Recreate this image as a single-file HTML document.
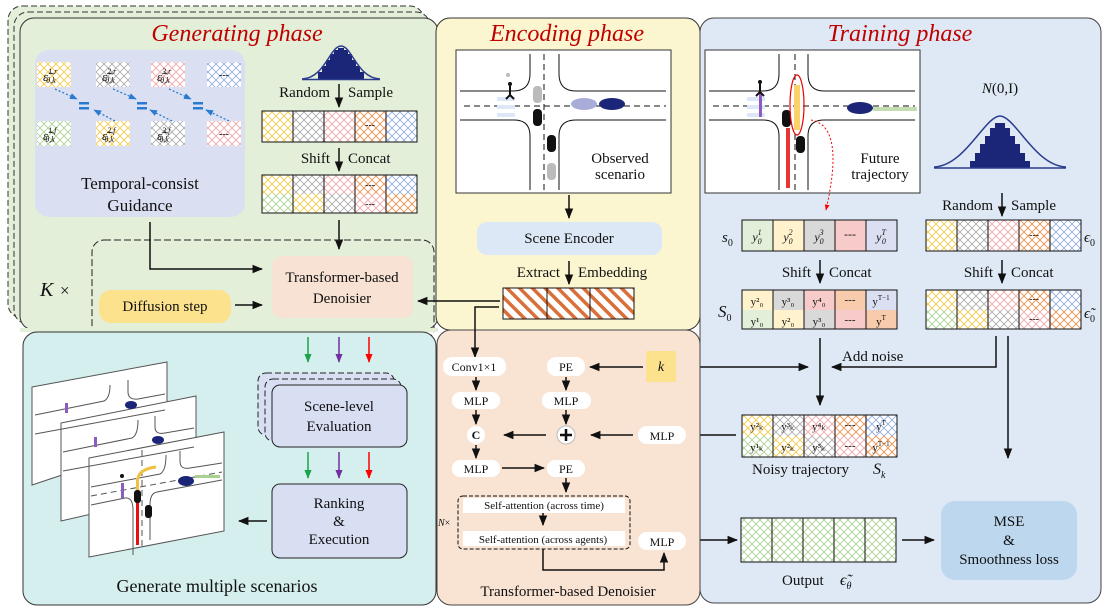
<!DOCTYPE html>
<html><head><meta charset="utf-8"><style>
html,body{margin:0;padding:0;background:#fff;width:1108px;height:608px;overflow:hidden}
svg{display:block}
text{font-family:"Liberation Serif",serif;fill:#111}
.t{font-size:15px}
.s{font-size:12px}
.ti{font-family:"Liberation Serif",serif;font-style:italic;font-size:24px;fill:#c00000}
.i{font-style:italic}
</style></head><body>
<svg width="1108" height="608" viewBox="0 0 1108 608" xmlns="http://www.w3.org/2000/svg">
<defs>
<pattern id="hy" width="8" height="8" patternUnits="userSpaceOnUse"><rect width="8" height="8" fill="#fff"/><path d="M0,0L8,8M8,0L0,8" stroke="#f5c842" stroke-width="0.8"/></pattern>
<pattern id="hg" width="8" height="8" patternUnits="userSpaceOnUse"><rect width="8" height="8" fill="#fff"/><path d="M0,0L8,8M8,0L0,8" stroke="#aaa" stroke-width="0.8"/></pattern>
<pattern id="hp" width="8" height="8" patternUnits="userSpaceOnUse"><rect width="8" height="8" fill="#fff"/><path d="M0,0L8,8M8,0L0,8" stroke="#f2a3a3" stroke-width="0.8"/></pattern>
<pattern id="ho" width="8" height="8" patternUnits="userSpaceOnUse"><rect width="8" height="8" fill="#fff"/><path d="M0,0L8,8M8,0L0,8" stroke="#ef8c44" stroke-width="0.8"/></pattern>
<pattern id="hb" width="8" height="8" patternUnits="userSpaceOnUse"><rect width="8" height="8" fill="#fff"/><path d="M0,0L8,8M8,0L0,8" stroke="#8faadf" stroke-width="0.8"/></pattern>
<pattern id="hgr" width="8" height="8" patternUnits="userSpaceOnUse"><rect width="8" height="8" fill="#fff"/><path d="M0,0L8,8M8,0L0,8" stroke="#a9d08e" stroke-width="0.8"/></pattern>
<pattern id="stripe" width="9" height="9" patternUnits="userSpaceOnUse" patternTransform="rotate(-45)"><rect width="9" height="9" fill="#fff"/><rect width="3.5" height="9" fill="#d9703a"/></pattern>
<marker id="a" viewBox="0 0 10 10" refX="9" refY="5" markerWidth="7" markerHeight="7" orient="auto-start-reverse"><path d="M0,1L10,5L0,9z" fill="#111"/></marker>
<marker id="ag" viewBox="0 0 10 10" refX="9" refY="5" markerWidth="6" markerHeight="6" orient="auto"><path d="M0,1L10,5L0,9z" fill="#1aa34a"/></marker>
<marker id="ap" viewBox="0 0 10 10" refX="9" refY="5" markerWidth="6" markerHeight="6" orient="auto"><path d="M0,1L10,5L0,9z" fill="#7030a0"/></marker>
<marker id="ar" viewBox="0 0 10 10" refX="9" refY="5" markerWidth="6" markerHeight="6" orient="auto"><path d="M0,1L10,5L0,9z" fill="#ff0000"/></marker>
<marker id="ab" viewBox="0 0 10 10" refX="9" refY="5" markerWidth="6" markerHeight="6" orient="auto"><path d="M0,1L10,5L0,9z" fill="#2a7bd0"/></marker>
<marker id="ad" viewBox="0 0 10 10" refX="9" refY="5" markerWidth="6" markerHeight="6" orient="auto"><path d="M0,1L10,5L0,9z" fill="#ff0000"/></marker>
</defs>

<!-- Generating phase stacked -->
<rect x="8" y="6" width="416" height="312" rx="14" fill="#e3efd9" stroke="#333" stroke-dasharray="6,3"/>
<rect x="14" y="12" width="416" height="312" rx="14" fill="#e3efd9" stroke="#333" stroke-dasharray="6,3"/>
<rect x="20" y="18" width="418" height="312" rx="14" fill="#e3efd9" stroke="#333"/>
<text x="237" y="41" text-anchor="middle" class="ti">Generating phase</text>

<!-- Guidance -->
<rect x="35" y="50" width="210" height="167" rx="14" fill="#dae0f2"/>
<g font-size="13">
<rect x="37" y="62" width="34" height="25" fill="url(#hy)"/><text x="43" y="81" class="i">ε̃<tspan dy="-7" font-size="8">1,r</tspan><tspan dy="9" dx="-11" font-size="8">θ,k</tspan></text>
<rect x="96" y="62" width="34" height="25" fill="url(#hg)"/><text x="102" y="81" class="i">ε̃<tspan dy="-7" font-size="8">2,r</tspan><tspan dy="9" dx="-11" font-size="8">θ,k</tspan></text>
<rect x="151" y="62" width="34" height="25" fill="url(#hp)"/><text x="157" y="81" class="i">ε̃<tspan dy="-7" font-size="8">3,r</tspan><tspan dy="9" dx="-11" font-size="8">θ,k</tspan></text>
<rect x="207" y="62" width="34" height="25" fill="url(#hb)"/><text x="224" y="78" text-anchor="middle" font-size="10">---</text>
<rect x="37" y="121" width="34" height="25" fill="url(#hgr)"/><text x="43" y="140" class="i">ε̃<tspan dy="-7" font-size="8">1,f</tspan><tspan dy="9" dx="-11" font-size="8">θ,k</tspan></text>
<rect x="96" y="121" width="34" height="25" fill="url(#hy)"/><text x="102" y="140" class="i">ε̃<tspan dy="-7" font-size="8">2,f</tspan><tspan dy="9" dx="-11" font-size="8">θ,k</tspan></text>
<rect x="151" y="121" width="34" height="25" fill="url(#hg)"/><text x="157" y="140" class="i">ε̃<tspan dy="-7" font-size="8">3,f</tspan><tspan dy="9" dx="-11" font-size="8">θ,k</tspan></text>
<rect x="207" y="121" width="34" height="25" fill="url(#hp)"/><text x="224" y="137" text-anchor="middle" font-size="10">---</text>
</g>
<g stroke="#2a7bd0" stroke-width="1.3" stroke-dasharray="2,2" fill="none">
<path d="M55,89L77,99" marker-end="url(#ab)"/><path d="M115,121L94,110" marker-end="url(#ab)"/>
<path d="M113,89L136,99" marker-end="url(#ab)"/><path d="M172,121L150,110" marker-end="url(#ab)"/>
<path d="M169,89L191,99" marker-end="url(#ab)"/><path d="M229,121L206,110" marker-end="url(#ab)"/>
</g>
<g fill="#2a7bd0"><rect x="79" y="102" width="10" height="2.5"/><rect x="79" y="107" width="10" height="2.5"/>
<rect x="137" y="102" width="10" height="2.5"/><rect x="137" y="107" width="10" height="2.5"/>
<rect x="193" y="102" width="10" height="2.5"/><rect x="193" y="107" width="10" height="2.5"/></g>
<text x="140" y="189" text-anchor="middle" font-size="17">Temporal-consist</text>
<text x="140" y="211" text-anchor="middle" font-size="17">Guidance</text>

<!-- Gen gaussian -->
<path d="M318,80V72H322V66H326V60H330V54H334V50H338V48H344V50H348V54H352V60H356V66H360V72H364V80Z" fill="#1c2678"/>
<path d="M302,79C325,78 330,46 341,46C352,46 357,78 380,79" fill="none" stroke="#2b3c8f" stroke-width="1.5"/>
<line x1="302" y1="79.5" x2="380" y2="79.5" stroke="#2b3c8f" stroke-width="1.5"/>
<text x="330" y="97" text-anchor="end" class="t">Random</text><text x="348" y="97" class="t">Sample</text>
<line x1="339" y1="84" x2="339" y2="107" stroke="#111" stroke-width="1.5" marker-end="url(#a)"/>
<g stroke="#111" stroke-width="1">
<rect x="262" y="111" width="31" height="31" fill="url(#hy)"/><rect x="293" y="111" width="31" height="31" fill="url(#hg)"/><rect x="324" y="111" width="31" height="31" fill="url(#hp)"/><rect x="355" y="111" width="31" height="31" fill="url(#ho)"/><rect x="386" y="111" width="31" height="31" fill="url(#hb)"/>
</g><text x="370" y="128" text-anchor="middle" font-size="10">---</text>
<text x="330" y="163" text-anchor="end" class="t">Shift</text><text x="348" y="163" class="t">Concat</text>
<line x1="339" y1="148" x2="339" y2="171" stroke="#111" stroke-width="1.5" marker-end="url(#a)"/>
<g>
<rect x="262" y="175" width="31" height="19" fill="url(#hy)"/><rect x="293" y="175" width="31" height="19" fill="url(#hg)"/><rect x="324" y="175" width="31" height="19" fill="url(#hp)"/><rect x="355" y="175" width="31" height="19" fill="url(#ho)"/><rect x="386" y="175" width="31" height="19" fill="url(#hb)"/>
<rect x="262" y="194" width="31" height="19" fill="url(#hgr)"/><rect x="293" y="194" width="31" height="19" fill="url(#hy)"/><rect x="324" y="194" width="31" height="19" fill="url(#hg)"/><rect x="355" y="194" width="31" height="19" fill="url(#hp)"/><rect x="386" y="194" width="31" height="19" fill="url(#ho)"/>
</g>
<g fill="none" stroke="#111"><rect x="262" y="175" width="155" height="38"/><path d="M293,175V213M324,175V213M355,175V213M386,175V213"/></g>
<text x="370" y="188" text-anchor="middle" font-size="10">---</text><text x="370" y="207" text-anchor="middle" font-size="10">---</text>
<line x1="339" y1="220" x2="339" y2="249" stroke="#111" stroke-width="1.5" marker-end="url(#a)"/>

<!-- dashed K box -->
<rect x="92" y="240" width="342" height="100" rx="12" fill="none" stroke="#222" stroke-dasharray="7,3"/>
<rect x="20" y="328" width="418" height="4" fill="#e3efd9"/>
<text x="40" y="296" font-size="20" class="i">K</text><text x="60" y="296" font-size="17">×</text>
<rect x="272" y="256" width="141" height="62" rx="10" fill="#f7e2d3"/>
<text x="342" y="282" text-anchor="middle" class="t">Transformer-based</text>
<text x="342" y="303" text-anchor="middle" class="t">Denoisier</text>
<rect x="99" y="290" width="132" height="33" rx="12" fill="#fde28e"/>
<text x="165" y="311" text-anchor="middle" class="t">Diffusion step</text>
<path d="M150,222V269H262" fill="none" stroke="#111" stroke-width="1.5" marker-end="url(#a)"/>
<line x1="235" y1="305" x2="262" y2="305" stroke="#111" stroke-width="1.5" marker-end="url(#a)"/>

<!-- Encoding phase -->
<rect x="436" y="18" width="264" height="312" rx="14" fill="#fbf6cf" stroke="#333"/>
<text x="567" y="41" text-anchor="middle" class="ti">Encoding phase</text>
<rect x="456" y="50" width="215" height="143" fill="#fff" stroke="#333"/>
<g stroke="#111" fill="none" stroke-width="1">
<path d="M460,91H513Q530,91 530,74V54M559,54V74Q559,91 576,91H666M460,120H514Q530,120 530,136V190M559,190V136Q559,120 576,120H666"/>
<path d="M464,106H666M544,54V190" stroke-dasharray="6,4"/>
</g>
<g fill="#dce8f7"><rect x="497" y="97" width="18" height="4"/><rect x="497" y="105" width="18" height="4"/><rect x="497" y="113" width="18" height="4"/></g>
<rect x="533" y="86" width="9" height="17" rx="4" fill="#bbb"/><rect x="533" y="109" width="9" height="17" rx="4" fill="#111"/>
<rect x="547" y="135" width="9" height="17" rx="4" fill="#111"/><rect x="547" y="163" width="9" height="17" rx="4" fill="#bbb"/>
<circle cx="508" cy="75" r="2" fill="#bbb"/><circle cx="510" cy="84" r="2" fill="#111"/><path d="M510,86V95M510,95L506,99M510,95L514,99" stroke="#111" stroke-width="2"/>
<ellipse cx="584" cy="104" rx="13" ry="6" fill="#a9acd8"/><ellipse cx="612" cy="104" rx="13" ry="6" fill="#1c2678"/>
<text x="620" y="163" text-anchor="middle" class="t">Observed</text><text x="620" y="179" text-anchor="middle" class="t">scenario</text>
<line x1="569" y1="195" x2="569" y2="218" stroke="#111" stroke-width="1.5" marker-end="url(#a)"/>
<rect x="477" y="222" width="185" height="33" rx="10" fill="#dce8f5"/>
<text x="569" y="243" text-anchor="middle" class="t">Scene Encoder</text>
<text x="560" y="277" text-anchor="end" class="t">Extract</text><text x="578" y="277" class="t">Embedding</text>
<line x1="569" y1="261" x2="569" y2="284" stroke="#111" stroke-width="1.5" marker-end="url(#a)"/>
<rect x="503" y="288" width="131" height="31" fill="url(#stripe)" stroke="#111"/>
<path d="M547,288V319M590,288V319" stroke="#111"/>

<!-- Training phase -->
<rect x="700" y="18" width="401" height="585" rx="14" fill="#dfe9f5" stroke="#444"/>
<text x="900" y="41" text-anchor="middle" class="ti">Training phase</text>
<rect x="705" y="50" width="215" height="143" fill="#fff" stroke="#333"/>
<g stroke="#111" fill="none" stroke-width="1">
<path d="M709,91H763Q779,91 779,74V54M808,54V74Q808,91 824,91H915M709,120H763Q779,120 779,136V190M808,190V136Q808,120 824,120H915"/>
<path d="M713,106H915M795,54V190" stroke-dasharray="6,4"/>
</g>
<g fill="#dce8f7"><rect x="747" y="97" width="18" height="4"/><rect x="747" y="105" width="18" height="4"/><rect x="747" y="113" width="18" height="4"/></g>
<rect x="759" y="93" width="3" height="24" fill="#8a5cc0"/>
<circle cx="760" cy="82" r="2" fill="#111"/><path d="M760,84V92M760,92L756,96M760,92L764,96" stroke="#111" stroke-width="2"/>
<rect x="786" y="128" width="4" height="60" fill="#e51010" opacity="0.85"/>
<rect x="782" y="110" width="9" height="17" rx="4" fill="#111"/>
<rect x="794" y="85" width="6" height="45" fill="#fbd26a"/>
<ellipse cx="797" cy="105" rx="7" ry="30" fill="none" stroke="#e00" stroke-width="1.2"/>
<rect x="796" y="136" width="9" height="17" rx="4" fill="#111"/>
<ellipse cx="860" cy="108" rx="13" ry="6" fill="#1c2678"/>
<rect x="873" y="107" width="44" height="4" fill="#a9d08e" opacity="0.7"/>
<text x="880" y="163" text-anchor="middle" class="t">Future</text><text x="880" y="179" text-anchor="middle" class="t">trajectory</text>
<path d="M811,120C840,125 835,170 826,210" fill="none" stroke="#f00" stroke-dasharray="2,2" marker-end="url(#ad)"/>

<text x="1000" y="93" text-anchor="middle" font-size="15"><tspan class="i">N</tspan>(0,I)</text>
<path d="M970,168V161H975V153H980V144H985V136H990V128H995V123H1005V128H1010V136H1015V144H1020V153H1025V161H1030V168Z" fill="#1c2678"/>
<path d="M934,167C965,166 985,116 1000,116C1015,116 1035,166 1066,167" fill="none" stroke="#2b3c8f" stroke-width="1.5"/>
<line x1="934" y1="168" x2="1066" y2="168" stroke="#2b3c8f" stroke-width="1.5"/>
<text x="993" y="210" text-anchor="end" class="t">Random</text><text x="1011" y="210" class="t">Sample</text>
<line x1="1002" y1="193" x2="1002" y2="216" stroke="#111" stroke-width="1.5" marker-end="url(#a)"/>
<g stroke="#111">
<rect x="926" y="220" width="31" height="31" fill="url(#hy)"/><rect x="957" y="220" width="31" height="31" fill="url(#hg)"/><rect x="988" y="220" width="31" height="31" fill="url(#hp)"/><rect x="1019" y="220" width="31" height="31" fill="url(#ho)"/><rect x="1050" y="220" width="31" height="31" fill="url(#hb)"/>
</g><text x="1034" y="238" text-anchor="middle" font-size="10">---</text>
<text x="1084" y="242" font-size="15" class="i">ϵ<tspan dy="4" font-size="10" font-style="normal">0</tspan></text>

<text x="722" y="242" font-size="15" class="i">s<tspan dy="4" font-size="10" font-style="normal">0</tspan></text>
<g stroke="#111">
<rect x="742" y="220" width="31" height="31" fill="#e2efd9"/><rect x="773" y="220" width="31" height="31" fill="#fff2cc"/><rect x="804" y="220" width="31" height="31" fill="#d9d9d9"/><rect x="835" y="220" width="31" height="31" fill="#f8cbcb"/><rect x="866" y="220" width="31" height="31" fill="#dae0f2"/>
</g>
<g font-size="12" class="i" fill="#555" text-anchor="middle">
<text x="757" y="241" class="i">y<tspan font-size="8" dy="-6">1</tspan><tspan font-size="8" dy="9" dx="-4">0</tspan></text>
<text x="788" y="241" class="i">y<tspan font-size="8" dy="-6">2</tspan><tspan font-size="8" dy="9" dx="-4">0</tspan></text>
<text x="819" y="241" class="i">y<tspan font-size="8" dy="-6">3</tspan><tspan font-size="8" dy="9" dx="-4">0</tspan></text>
<text x="850" y="238" font-style="normal">---</text>
<text x="881" y="241" class="i">y<tspan font-size="8" dy="-6">T</tspan><tspan font-size="8" dy="9" dx="-4">0</tspan></text>
</g>
<text x="811" y="277" text-anchor="end" class="t">Shift</text><text x="829" y="277" class="t">Concat</text>
<line x1="820" y1="260" x2="820" y2="283" stroke="#111" stroke-width="1.5" marker-end="url(#a)"/>
<text x="993" y="277" text-anchor="end" class="t">Shift</text><text x="1011" y="277" class="t">Concat</text>
<line x1="1002" y1="260" x2="1002" y2="283" stroke="#111" stroke-width="1.5" marker-end="url(#a)"/>

<text x="718" y="317" font-size="17" class="i">S<tspan dy="4" font-size="10" font-style="normal">0</tspan></text>
<g>
<rect x="742" y="290" width="31" height="20" fill="#fff2cc"/><rect x="773" y="290" width="31" height="20" fill="#d9d9d9"/><rect x="804" y="290" width="31" height="20" fill="#f8cbcb"/><rect x="835" y="290" width="31" height="20" fill="#f8cbad"/><rect x="866" y="290" width="31" height="20" fill="#dae0f2"/>
<rect x="742" y="310" width="31" height="19" fill="#e2efd9"/><rect x="773" y="310" width="31" height="19" fill="#fff2cc"/><rect x="804" y="310" width="31" height="19" fill="#d9d9d9"/><rect x="835" y="310" width="31" height="19" fill="#f8cbcb"/><rect x="866" y="310" width="31" height="19" fill="#f8cbad"/>
</g>
<g fill="none" stroke="#111"><rect x="742" y="290" width="155" height="39"/><path d="M773,290V329M804,290V329M835,290V329M866,290V329"/></g>
<g font-size="11" fill="#555" text-anchor="middle">
<text x="757" y="305">y²₀</text><text x="788" y="305">y³₀</text><text x="819" y="305">y⁴₀</text><text x="850" y="303">---</text><text x="881" y="305">y<tspan font-size="7" dy="-5">T−1</tspan></text>
<text x="757" y="325">y¹₀</text><text x="788" y="325">y²₀</text><text x="819" y="325">y³₀</text><text x="850" y="323">---</text><text x="881" y="325">y<tspan font-size="7" dy="-5">T</tspan></text>
</g>
<g>
<rect x="926" y="290" width="31" height="20" fill="url(#hy)"/><rect x="957" y="290" width="31" height="20" fill="url(#hg)"/><rect x="988" y="290" width="31" height="20" fill="url(#hp)"/><rect x="1019" y="290" width="31" height="20" fill="url(#ho)"/><rect x="1050" y="290" width="31" height="20" fill="url(#hb)"/>
<rect x="926" y="310" width="31" height="19" fill="url(#hgr)"/><rect x="957" y="310" width="31" height="19" fill="url(#hy)"/><rect x="988" y="310" width="31" height="19" fill="url(#hg)"/><rect x="1019" y="310" width="31" height="19" fill="url(#hp)"/><rect x="1050" y="310" width="31" height="19" fill="url(#ho)"/>
</g>
<g fill="none" stroke="#111"><rect x="926" y="290" width="155" height="39"/><path d="M957,290V329M988,290V329M1019,290V329M1050,290V329"/></g>
<text x="1034" y="302" text-anchor="middle" font-size="10">---</text><text x="1034" y="322" text-anchor="middle" font-size="10">---</text>
<text x="1084" y="318" font-size="15" class="i">ϵ̃<tspan dy="4" font-size="10" font-style="normal">0</tspan></text>

<path d="M996,336V367H832" fill="none" stroke="#111" stroke-width="1.5" marker-end="url(#a)"/>
<text x="842" y="361" class="t">Add noise</text>
<line x1="680" y1="367" x2="808" y2="367" stroke="#111" stroke-width="1.5" marker-end="url(#a)"/>
<line x1="820" y1="338" x2="820" y2="405" stroke="#111" stroke-width="1.5" marker-end="url(#a)"/>
<line x1="1008" y1="336" x2="1008" y2="458" stroke="#111" stroke-width="1.5" marker-end="url(#a)"/>

<g>
<rect x="742" y="415" width="31" height="21" fill="url(#hy)"/><rect x="773" y="415" width="31" height="21" fill="url(#hg)"/><rect x="804" y="415" width="31" height="21" fill="url(#hp)"/><rect x="835" y="415" width="31" height="21" fill="url(#ho)"/><rect x="866" y="415" width="31" height="21" fill="url(#hb)"/>
<rect x="742" y="436" width="31" height="21" fill="url(#hgr)"/><rect x="773" y="436" width="31" height="21" fill="url(#hy)"/><rect x="804" y="436" width="31" height="21" fill="url(#hg)"/><rect x="835" y="436" width="31" height="21" fill="url(#hp)"/><rect x="866" y="436" width="31" height="21" fill="url(#ho)"/>
</g>
<g fill="none" stroke="#111"><rect x="742" y="415" width="155" height="42"/><path d="M773,415V457M804,415V457M835,415V457M866,415V457"/></g>
<g font-size="11" fill="#555" text-anchor="middle">
<text x="757" y="430">y²ₖ</text><text x="788" y="430">y³ₖ</text><text x="819" y="430">y⁴ₖ</text><text x="850" y="428">---</text><text x="881" y="430">y<tspan font-size="7" dy="-5">T</tspan></text>
<text x="757" y="451">y¹ₖ</text><text x="788" y="451">y²ₖ</text><text x="819" y="451">y³ₖ</text><text x="850" y="449">---</text><text x="881" y="451">y<tspan font-size="7" dy="-5">T−1</tspan></text>
</g>
<text x="752" y="474" class="t">Noisy trajectory</text><text x="873" y="474" font-size="16" class="i">S<tspan dy="4" font-size="10">k</tspan></text>
<line x1="736" y1="435" x2="690" y2="435" stroke="#111" stroke-width="1.5" marker-end="url(#a)"/>

<g stroke="#111"><rect x="741" y="518" width="31" height="44" fill="url(#hgr)"/><rect x="772" y="518" width="31" height="44" fill="url(#hgr)"/><rect x="803" y="518" width="31" height="44" fill="url(#hgr)"/><rect x="834" y="518" width="31" height="44" fill="url(#hgr)"/><rect x="865" y="518" width="31" height="44" fill="url(#hgr)"/></g>
<text x="782" y="585" class="t">Output</text><text x="840" y="585" font-size="16" class="i">ϵ̃<tspan dy="4" font-size="10">θ</tspan></text>
<line x1="686" y1="540" x2="737" y2="540" stroke="#111" stroke-width="1.5" marker-end="url(#a)"/>
<line x1="902" y1="540" x2="934" y2="540" stroke="#111" stroke-width="1.5" marker-end="url(#a)"/>
<rect x="941" y="501" width="136" height="79" rx="14" fill="#bdd7ee"/>
<text x="1009" y="526" text-anchor="middle" class="t">MSE</text><text x="1009" y="545" text-anchor="middle" class="t">&amp;</text><text x="1009" y="564" text-anchor="middle" class="t">Smoothness loss</text>

<!-- Denoiser panel -->
<rect x="437" y="330" width="263" height="275" rx="14" fill="#f9e3d3" stroke="#444"/>
<path d="M500,301H418" stroke="#111" stroke-width="1.5" marker-end="url(#a)"/>
<path d="M499,307H475V357" fill="none" stroke="#111" stroke-width="1.5" marker-end="url(#a)"/>
<g fill="#fff">
<rect x="443" y="357" width="63" height="19" rx="9"/><rect x="547" y="357" width="38" height="19" rx="9"/>
<rect x="452" y="392" width="48" height="17" rx="8"/><rect x="542" y="392" width="49" height="17" rx="8"/>
<rect x="638" y="426" width="48" height="18" rx="9"/>
<rect x="452" y="460" width="48" height="17" rx="8"/><rect x="547" y="460" width="38" height="17" rx="8"/>
<rect x="638" y="532" width="48" height="18" rx="9"/>
<circle cx="476" cy="435" r="9"/>
</g>
<circle cx="566" cy="435" r="9" fill="#fff" stroke="#bbb"/>
<path d="M560,435H572M566,429V441" stroke="#111" stroke-width="2.5"/>
<rect x="646" y="351" width="30" height="31" fill="#fde28e"/>
<text x="661" y="371" text-anchor="middle" font-size="14" class="i">k</text>
<g font-size="12" text-anchor="middle">
<text x="474" y="371">Conv1×1</text><text x="566" y="371">PE</text>
<text x="476" y="405">MLP</text><text x="566" y="405">MLP</text>
<text x="476" y="439" font-weight="bold">C</text>
<text x="662" y="440">MLP</text>
<text x="476" y="473">MLP</text><text x="566" y="473">PE</text>
<text x="662" y="546">MLP</text>
</g>
<g stroke="#111" stroke-width="1.5" fill="none">
<path d="M643,367H590" marker-end="url(#a)"/>
<path d="M476,377V390" marker-end="url(#a)"/><path d="M566,377V390" marker-end="url(#a)"/>
<path d="M476,410V424" marker-end="url(#a)"/><path d="M566,410V424" marker-end="url(#a)"/>
<path d="M546,435H504" marker-end="url(#a)"/><path d="M633,435H591" marker-end="url(#a)"/>
<path d="M476,445V458" marker-end="url(#a)"/>
<path d="M502,468H544" marker-end="url(#a)"/>
<path d="M566,478V492" marker-end="url(#a)"/>
<path d="M543,513V525" marker-end="url(#a)"/>
<path d="M543,549V570H664V553" marker-end="url(#a)"/>
</g>
<rect x="458" y="496" width="172" height="53" rx="5" fill="none" stroke="#111" stroke-dasharray="4,2"/>
<rect x="463" y="498" width="162" height="15" fill="#fff"/><rect x="463" y="531" width="162" height="15" fill="#fff"/>
<text x="544" y="509" text-anchor="middle" font-size="11">Self-attention (across time)</text>
<text x="543" y="543" text-anchor="middle" font-size="11">Self-attention (across agents)</text>
<text x="438" y="526" font-size="10" class="i">N<tspan font-style="normal">×</tspan></text>
<text x="568" y="596" text-anchor="middle" class="t">Transformer-based Denoisier</text>

<!-- Bottom-left -->
<rect x="23" y="332" width="413" height="273" rx="14" fill="#d5efee" stroke="#333"/>
<g stroke="#555" fill="#fff">
<path d="M32,387L167,362V440L32,485Z"/>
<path d="M61,423L196,396V490L61,521Z"/>
<path d="M89,458L224,432V531L89,557Z"/>
</g>
<g stroke="#555" fill="none" stroke-width="1">
<path d="M35,415L104,401Q110,398 110,385M128,380V392Q128,400 138,399L165,394M35,434L165,410"/>
<path d="M63,452L132,438Q138,435 138,420M155,416V427Q155,435 165,433L194,428M63,471L194,447"/>
<path d="M91,487L160,474Q166,471 166,455M180,451V461Q180,470 190,468L222,463M91,505L125,498Q133,497 133,510V555M157,492Q150,493 150,505V540M157,492L222,480"/>
<path d="M91,496L222,472M142,450V550" stroke-dasharray="6,4"/>
</g>
<rect x="136" y="478" width="3" height="50" fill="#f0c040"/><path d="M138,478Q140,469 156,467" stroke="#f0c040" stroke-width="3" fill="none"/>
<rect x="136" y="500" width="3" height="45" fill="#e51010"/>
<rect x="134" y="490" width="7" height="13" rx="3" fill="#111"/><rect x="145" y="505" width="7" height="13" rx="3" fill="#111"/>
<rect x="121" y="483" width="3" height="15" fill="#8a5cc0"/><circle cx="122" cy="476" r="2" fill="#111"/>
<ellipse cx="186" cy="481" rx="8" ry="5" fill="#1c2678"/><rect x="195" y="475" width="25" height="3" fill="#a9d08e"/>
<rect x="65" y="403" width="3" height="10" fill="#8a5cc0"/><rect x="94" y="437" width="3" height="10" fill="#8a5cc0"/>
<ellipse cx="131" cy="405" rx="6" ry="4" fill="#1c2678"/><ellipse cx="158" cy="440" rx="6" ry="4" fill="#1c2678"/>

<g stroke-width="1.5">
<line x1="308" y1="337" x2="308" y2="362" stroke="#1aa34a" marker-end="url(#ag)"/>
<line x1="339" y1="337" x2="339" y2="362" stroke="#7030a0" marker-end="url(#ap)"/>
<line x1="369" y1="337" x2="369" y2="362" stroke="#ff0000" marker-end="url(#ar)"/>
<line x1="308" y1="452" x2="308" y2="478" stroke="#1aa34a" marker-end="url(#ag)"/>
<line x1="339" y1="452" x2="339" y2="478" stroke="#7030a0" marker-end="url(#ap)"/>
<line x1="369" y1="452" x2="369" y2="478" stroke="#ff0000" marker-end="url(#ar)"/>
</g>
<rect x="258" y="373" width="136" height="62" rx="8" fill="#d9dff3" stroke="#222" stroke-dasharray="6,3"/>
<rect x="265" y="379" width="136" height="62" rx="8" fill="#d9dff3" stroke="#222" stroke-dasharray="6,3"/>
<rect x="272" y="385" width="135" height="62" rx="8" fill="#d9dff3" stroke="#222"/>
<text x="339" y="411" text-anchor="middle" class="t">Scene-level</text><text x="339" y="431" text-anchor="middle" class="t">Evaluation</text>
<rect x="272" y="484" width="135" height="74" rx="8" fill="#d9dff3" stroke="#222"/>
<text x="339" y="508" text-anchor="middle" class="t">Ranking</text><text x="339" y="526" text-anchor="middle" class="t">&amp;</text><text x="339" y="544" text-anchor="middle" class="t">Execution</text>
<line x1="267" y1="521" x2="239" y2="521" stroke="#111" stroke-width="1.5" marker-end="url(#a)"/>
<text x="217" y="592" text-anchor="middle" font-size="18">Generate multiple scenarios</text>
</svg>
</body></html>
